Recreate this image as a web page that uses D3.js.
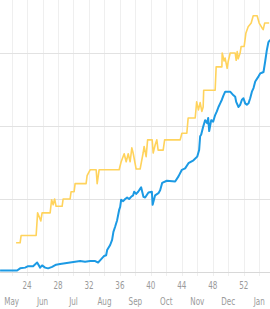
<!DOCTYPE html>
<html>
<head>
<meta charset="utf-8">
<script src="https://cdn.jsdelivr.net/npm/d3@7"></script>
<style>
    html, body { margin: 0; padding: 0; background: #fff; }
    text { font-family: "Liberation Sans Narrow", "DejaVu Sans Condensed", sans-serif; fill: #9a9a9a; }
</style>
</head>
<body>
<div id="chart"></div>
<script>
// week-of-year tick labels and the month labels under them
const weekTicks = [24, 28, 32, 36, 40, 44, 48, 52];
const monthNames = ['May', 'Jun', 'Jul', 'Aug', 'Sep', 'Oct', 'Nov', 'Dec', 'Jan'];
const monthWeeks = [22, 26, 30, 34, 38, 42, 46, 50, 54];
const gridValues = [0, 100, 200, 300];

// yellow series, [week, value]
const yellowSeries = [
    [22.58, 40], [23.10, 40], [23.23, 50], [25.17, 50], [25.36, 81], [25.78, 70], [25.94, 81],
    [26.98, 81], [27.17, 99], [27.37, 92], [27.56, 100], [27.75, 90], [28.53, 90], [28.66, 100],
    [29.56, 100], [29.69, 110], [30.08, 110], [30.21, 121], [31.63, 121], [31.76, 132], [32.15, 140],
    [32.93, 140], [33.06, 121], [33.31, 140], [35.90, 140], [36.16, 151], [36.55, 162], [36.81, 151],
    [37.07, 162], [37.32, 151], [37.54, 170], [37.71, 163], [38.10, 141], [38.61, 141], [39.00, 163],
    [39.13, 172], [39.39, 158], [39.58, 181], [40.17, 181], [40.30, 163], [40.55, 174], [40.77, 181],
    [40.94, 167], [41.59, 167], [41.78, 181], [43.79, 181], [44.01, 190], [44.65, 190], [44.82, 211],
    [45.73, 211], [45.92, 233], [46.15, 222], [46.37, 232], [46.59, 220], [46.76, 226], [46.83, 249],
    [48.31, 249], [48.44, 281], [49.18, 281], [49.22, 300], [49.47, 289], [49.60, 293], [49.86, 279],
    [49.99, 288], [50.25, 300], [50.90, 300], [51.03, 290], [51.16, 302], [51.29, 292], [51.54, 300],
    [51.67, 309], [52.06, 309], [52.28, 327], [52.58, 336], [52.97, 341], [53.23, 351], [53.74, 351],
    [54.00, 341], [54.39, 334], [54.52, 332], [54.71, 341], [55.29, 341]
];

// blue series, [week, value]
const blueSeries = [
    [20.51, 2], [22.71, 2], [23.10, 5], [23.75, 6], [24.13, 8], [24.78, 8], [25.30, 13], [25.69, 6],
    [25.94, 9], [26.33, 6], [26.72, 5], [27.24, 7], [27.75, 10], [28.27, 11], [28.92, 12], [29.56, 13],
    [30.21, 14], [30.86, 15], [31.50, 14], [32.15, 15], [32.80, 15], [33.18, 13], [33.44, 16],
    [33.96, 22], [34.22, 23], [34.35, 30], [34.74, 37], [34.99, 44], [35.16, 55], [35.38, 62],
    [35.64, 71], [35.90, 85], [36.03, 89], [36.16, 99], [36.42, 97], [36.68, 100], [36.93, 102],
    [37.19, 100], [37.45, 103], [37.71, 105], [37.84, 110], [38.10, 107], [38.36, 110], [38.74, 116],
    [39.04, 103], [39.26, 102], [39.69, 109], [40.13, 110], [40.23, 92], [40.55, 105], [40.98, 108],
    [41.20, 112], [41.46, 122], [42.07, 125], [43.14, 124], [43.57, 131], [44.01, 140], [44.43, 142],
    [44.86, 149], [45.51, 153], [45.99, 158], [46.24, 167], [46.37, 186], [46.50, 188], [46.76, 199],
    [47.02, 208], [47.28, 204], [47.41, 211], [47.54, 193], [47.80, 208], [48.05, 206], [48.31, 215],
    [48.53, 220], [48.74, 226], [48.96, 231], [49.18, 236], [49.39, 242], [49.61, 247], [50.25, 247],
    [50.68, 242], [50.90, 240], [51.03, 233], [51.33, 226], [51.54, 229], [51.77, 236], [51.97, 238],
    [52.19, 231], [52.41, 229], [52.62, 231], [52.84, 238], [53.06, 247], [53.27, 252], [53.49, 261],
    [53.92, 268], [54.13, 272], [54.35, 273], [54.56, 274], [54.77, 288], [54.99, 304], [55.20, 315],
    [55.42, 318]
];

const width = 270, height = 309;
const plotBottom = 272;

let svg = d3.select('#chart').append('svg')
    .attr('width', width).attr('height', height);

let x = d3.scaleLinear().domain([20.5, 55.4]).range([0, width]);
let y = d3.scaleLinear().domain([0, 400]).range([plotBottom, plotBottom - 292]);

// vertical grid every two weeks
let gridWeeks = d3.range(22, 56, 2);
svg.append('g').selectAll('line').data(gridWeeks).enter().append('line')
    .attr('x1', d => Math.round(x(d)) + 0.5).attr('x2', d => Math.round(x(d)) + 0.5)
    .attr('y1', 0).attr('y2', plotBottom + 4)
    .attr('stroke', '#efefef').attr('stroke-width', 1);

// horizontal grid
svg.append('g').selectAll('line').data(gridValues).enter().append('line')
    .attr('x1', 0).attr('x2', width)
    .attr('y1', d => Math.round(y(d)) + 0.5).attr('y2', d => Math.round(y(d)) + 0.5)
    .attr('stroke', d => d === 0 ? '#d8d8d8' : '#e2e2e2').attr('stroke-width', 1);

let line = d3.line().x(d => x(d[0])).y(d => y(d[1]));

svg.append('path').datum(yellowSeries)
    .attr('d', line).attr('fill', 'none')
    .attr('stroke', '#ffd35c').attr('stroke-width', 1.6).attr('stroke-linejoin', 'round');

svg.append('path').datum(blueSeries)
    .attr('d', line).attr('fill', 'none')
    .attr('stroke', '#1c9ae4').attr('stroke-width', 2).attr('stroke-linejoin', 'round');

// week labels (condensed look)
svg.append('g').selectAll('text').data(weekTicks).enter().append('text')
    .attr('transform', d => `translate(${x(d)},289) scale(0.8,1)`)
    .attr('text-anchor', 'middle')
    .style('font-size', '10px')
    .text(d => d);

// month labels
svg.append('g').selectAll('text').data(monthNames).enter().append('text')
    .attr('transform', (d, i) => `translate(${x(monthWeeks[i])},305) scale(0.8,1)`)
    .attr('text-anchor', 'middle')
    .style('font-size', '10px')
    .text(d => d);
</script>
</body>
</html>
